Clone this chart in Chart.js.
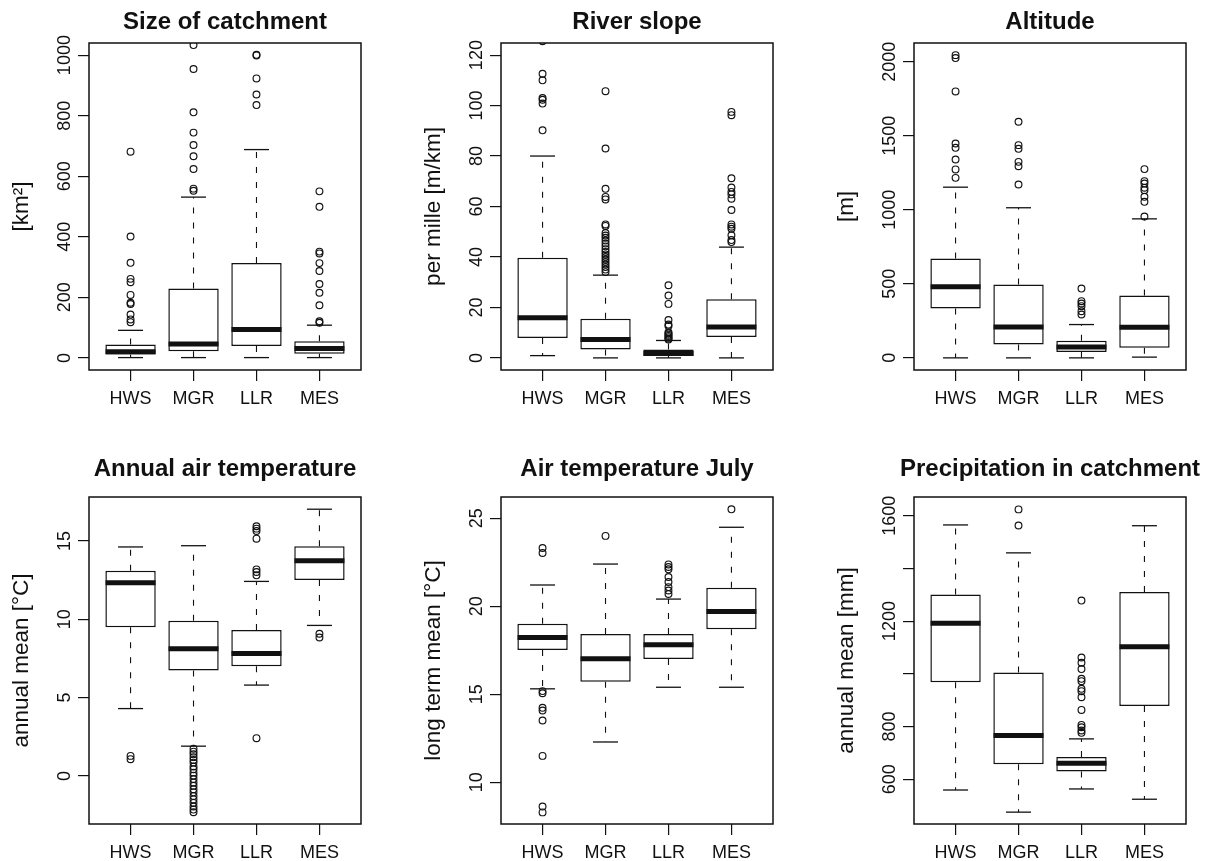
<!DOCTYPE html>
<html>
<head>
<meta charset="utf-8">
<script src="https://cdn.jsdelivr.net/npm/chart.js@4.4.1/dist/chart.umd.min.js"></script>
<style>
  html, body { margin: 0; background: #fff; }
  #page { position: relative; width: 1213px; height: 861px; overflow: hidden; }
  .panel { position: absolute; }
</style>
</head>
<body>
<div id="page"></div>
<script>
const groups = ['HWS', 'MGR', 'LLR', 'MES'];

// five-number rows per group: [lower whisker, q1, median, q3, upper whisker]
const sizeStats = [[1, 11, 20, 44, 91], [1, 22, 46, 229, 531], [1, 39, 94, 313, 688], [1, 14, 31, 55, 108]];
const sizeOut = [
  [681, 401, 314, 261, 250, 208, 182, 178, 143, 127, 118],
  [1033, 954, 811, 744, 703, 666, 624, 559, 552],
  [1001, 999, 923, 870, 835],
  [550, 499, 351, 345, 313, 287, 244, 215, 174, 121, 116]
];
const sizeTicks = [0, 200, 400, 600, 800, 1000];

const slopeStats = [[0.9, 7.9, 15.9, 39.7, 80], [0, 3.3, 7.3, 15.5, 32.8], [0, 0.7, 1.7, 3.3, 6.9], [0, 8.3, 12.2, 23.2, 43.9]];
const slopeOut = [
  [125.5, 112.6, 110, 103, 102.3, 100.8, 90.2],
  [105.7, 83, 67, 63.8, 62.8, 52.9, 52.3, 49.5, 48.5, 47.6, 46.5, 45.3, 44.2, 43.1, 42, 41, 40, 39, 38, 37, 36, 35, 34],
  [28.8, 24.7, 21.4, 15, 13.2, 12.6, 10.2, 9.7, 9.2, 8.7, 8.2, 7.7, 7.3],
  [97.5, 96.2, 71.2, 67.5, 65.8, 64.8, 63.1, 58.6, 52.9, 52, 51.2, 48.6, 46.7, 45.9]
];
const slopeTicks = [0, 20, 40, 60, 80, 100, 120];

const altStats = [[0, 333, 480, 671, 1153], [0, 90, 209, 495, 1014], [0, 40, 74, 115, 225], [5, 68, 207, 421, 939]];
const altOut = [
  [2045, 2025, 1800, 1448, 1419, 1340, 1273, 1216],
  [1595, 1437, 1412, 1324, 1295, 1171],
  [468, 383, 367, 349, 315, 293],
  [1275, 1194, 1178, 1149, 1133, 1088, 1054, 955]
];
const altTicks = [0, 500, 1000, 1500, 2000];

const tempStats = [[4.3, 9.5, 12.34, 13.1, 14.62], [1.9, 6.73, 8.12, 9.91, 14.7], [5.8, 7.01, 7.82, 9.31, 12.42], [9.61, 12.51, 13.74, 14.66, 17.03]];
const tempOut = [
  [1.28, 1.07],
  [1.73, 1.55, 1.38, 1.2, 1.02, 0.85, 0.6, 0.42, 0.21, 0.02, -0.2, -0.42, -0.63, -0.85, -1.05, -1.28, -1.5, -1.72, -1.95, -2.15, -2.32],
  [15.94, 15.79, 15.64, 15.15, 13.19, 13.02, 12.81, 2.41],
  [9.08, 8.84]
];
const tempTicks = [0, 5, 10, 15];

const julyStats = [[15.31, 17.51, 18.23, 19.01, 21.21], [12.29, 15.71, 17.02, 18.42, 22.4], [15.4, 17.0, 17.81, 18.42, 20.41], [15.4, 18.7, 19.71, 21.06, 24.49]];
const julyOut = [
  [23.31, 23.03, 15.18, 15.06, 14.23, 14.08, 13.51, 11.5, 8.62, 8.29],
  [24.0],
  [22.38, 22.23, 22.1, 21.66, 21.38, 21.09, 20.9, 20.7],
  [25.51]
];
const julyTicks = [10, 15, 20, 25];

const precStats = [[559, 968, 1192, 1301, 1565], [475, 657, 766, 1005, 1459], [563, 629, 661, 684, 753], [524, 878, 1103, 1310, 1562]];
const precOut = [
  [],
  [1624, 1563],
  [1278, 1062, 1042, 1018, 981, 972, 943, 934, 911, 863, 806, 797, 785, 776],
  []
];
const precTicks = [600, 800, 1000, 1200, 1400, 1600];
const precTickLabels = ['600', '800', '', '1200', '', '1600'];

const ink = '#111';
Chart.defaults.font.family = "'Liberation Sans', Arial, Helvetica, sans-serif";
Chart.defaults.color = ink;

// plot rectangles on the page; canvas is symmetric round the plot so the title centres on it
const plotW = 272, plotH = 327;
const marginSide = 85, marginB = 50;
const panelPos = [
  { left: 89, top: 43 }, { left: 501, top: 43 }, { left: 914, top: 43 },
  { left: 89, top: 497 }, { left: 501, top: 497 }, { left: 914, top: 497 }
];
const titleBand = [
  { height: 43, padTop: 7.6, padBottom: 6.6 },
  { height: 60, padTop: 17.6, padBottom: 13.6 }
];

// frame round the plot and rotated y tick labels (as R draws them)
const boxFrame = {
  id: 'boxFrame',
  afterDatasetsDraw(chart) {
    const { ctx, chartArea: a } = chart;
    ctx.save();
    ctx.strokeStyle = ink;
    ctx.lineWidth = 1.5;
    ctx.strokeRect(a.left, a.top, a.right - a.left, a.bottom - a.top);
    ctx.restore();
  },
  afterDraw(chart, args, opts) {
    const { ctx } = chart;
    const y = chart.scales.y;
    ctx.save();
    ctx.fillStyle = ink;
    ctx.font = "18px 'Liberation Sans', Arial, sans-serif";
    ctx.textAlign = 'center';
    ctx.textBaseline = 'alphabetic';
    y.ticks.forEach((t, i) => {
      const label = opts.labels[i];
      if (!label) return;
      ctx.save();
      ctx.translate(y.right - 19, y.getPixelForValue(t.value));
      ctx.rotate(-Math.PI / 2);
      ctx.fillText(label, 0, 0);
      ctx.restore();
    });
    ctx.restore();
  }
};

function drawPanel(index, title, yTitle, stats, outliers, yMin, yMax, yTicks, yLabels) {
  const pos = panelPos[index];
  const band = titleBand[index < 3 ? 0 : 1];
  const div = document.createElement('div');
  div.className = 'panel';
  div.style.left = (pos.left - marginSide) + 'px';
  div.style.top = (pos.top - band.height) + 'px';
  div.style.width = (plotW + 2 * marginSide) + 'px';
  div.style.height = (plotH + band.height + marginB) + 'px';
  const canvas = document.createElement('canvas');
  div.appendChild(canvas);
  document.getElementById('page').appendChild(div);

  const whiskers = [];
  stats.forEach((s, k) => {
    const x = k + 1;
    whiskers.push({ x, y: s[3] }, { x, y: s[4] }, { x, y: null }, { x, y: s[1] }, { x, y: s[0] }, { x, y: null });
  });
  const boxes = stats.map((s, k) => ({ x: k + 1, y: [s[1], s[3]] }));
  const caps = stats.flatMap((s, k) => [{ x: k + 1, y: s[0] }, { x: k + 1, y: s[4] }]);
  const medians = stats.map((s, k) => ({ x: k + 1, y: s[2] }));
  const points = outliers.flatMap((list, k) => list.map(v => ({ x: k + 1, y: v })));

  const tickGrid = { display: true, drawOnChartArea: false, drawTicks: true, tickLength: 11, color: ink, lineWidth: 1.2 };

  new Chart(canvas, {
    type: 'bar',
    data: {
      datasets: [
        { type: 'line', data: whiskers, order: 4, borderColor: ink, borderWidth: 1.1, borderDash: [6, 9],
          pointRadius: 0, spanGaps: false, fill: false },
        { type: 'bar', data: boxes, order: 3, backgroundColor: '#fff', borderColor: ink, borderWidth: 1.5,
          borderSkipped: false, barPercentage: 0.8, categoryPercentage: 1 },
        { type: 'scatter', data: caps, order: 2, pointStyle: 'line', pointRadius: 12.5,
          pointBorderWidth: 1.3, pointBorderColor: ink },
        { type: 'scatter', data: medians, order: 1, pointStyle: 'line', pointRadius: 25,
          pointBorderWidth: 5, pointBorderColor: ink },
        { type: 'scatter', data: points, order: 0, pointStyle: 'circle', pointRadius: 3.4,
          pointBorderWidth: 1.15, pointBorderColor: ink, pointBackgroundColor: 'rgba(0,0,0,0)' }
      ]
    },
    options: {
      responsive: true,
      maintainAspectRatio: false,
      animation: false,
      events: [],
      layout: { padding: 0 },
      plugins: {
        legend: { display: false },
        tooltip: { enabled: false },
        title: {
          display: true, text: title, color: ink,
          font: { size: 24, weight: 'bold' },
          padding: { top: band.padTop, bottom: band.padBottom }
        },
        boxFrame: { labels: yLabels }
      },
      scales: {
        x: {
          type: 'linear', min: 0.34, max: 4.66, offset: false,
          afterBuildTicks: axis => { axis.ticks = groups.map((g, k) => ({ value: k + 1 })); },
          afterFit: axis => { axis.height = marginB; axis.paddingLeft = 0; axis.paddingRight = 0; },
          grid: Object.assign({ offset: false }, tickGrid),
          border: { display: false },
          ticks: { autoSkip: false, maxRotation: 0, padding: 7.7, font: { size: 18 }, color: ink,
            callback: v => groups[Math.round(v) - 1] || '' }
        },
        y: {
          type: 'linear', min: yMin, max: yMax,
          afterBuildTicks: axis => { axis.ticks = yTicks.map(v => ({ value: v })); },
          afterFit: axis => { axis.width = marginSide; },
          grid: tickGrid,
          border: { display: false },
          ticks: { display: false },
          title: { display: true, text: yTitle, color: ink, font: { size: 22.5 }, padding: { top: 4.5, bottom: 0 } }
        },
        // empty right-hand axis, only to balance the left margin
        yRight: {
          type: 'linear', position: 'right', min: yMin, max: yMax,
          afterFit: axis => { axis.width = marginSide; },
          grid: { display: false },
          border: { display: false },
          ticks: { display: false }
        }
      }
    },
    plugins: [boxFrame]
  });
}

drawPanel(0, 'Size of catchment', '[km²]', sizeStats, sizeOut, -40, 1040, sizeTicks, sizeTicks.map(String));
drawPanel(1, 'River slope', 'per mille [m/km]', slopeStats, slopeOut, -4.8, 124.8, slopeTicks, slopeTicks.map(String));
drawPanel(2, 'Altitude', '[m]', altStats, altOut, -82, 2127, altTicks, altTicks.map(String));
drawPanel(3, 'Annual air temperature', 'annual mean [°C]', tempStats, tempOut, -3.07, 17.81, tempTicks, tempTicks.map(String));
drawPanel(4, 'Air temperature July', 'long term mean [°C]', julyStats, julyOut, 7.63, 26.21, julyTicks, julyTicks.map(String));
drawPanel(5, 'Precipitation in catchment', 'annual mean [mm]', precStats, precOut, 430, 1671, precTicks, precTickLabels);
</script>
</body>
</html>
